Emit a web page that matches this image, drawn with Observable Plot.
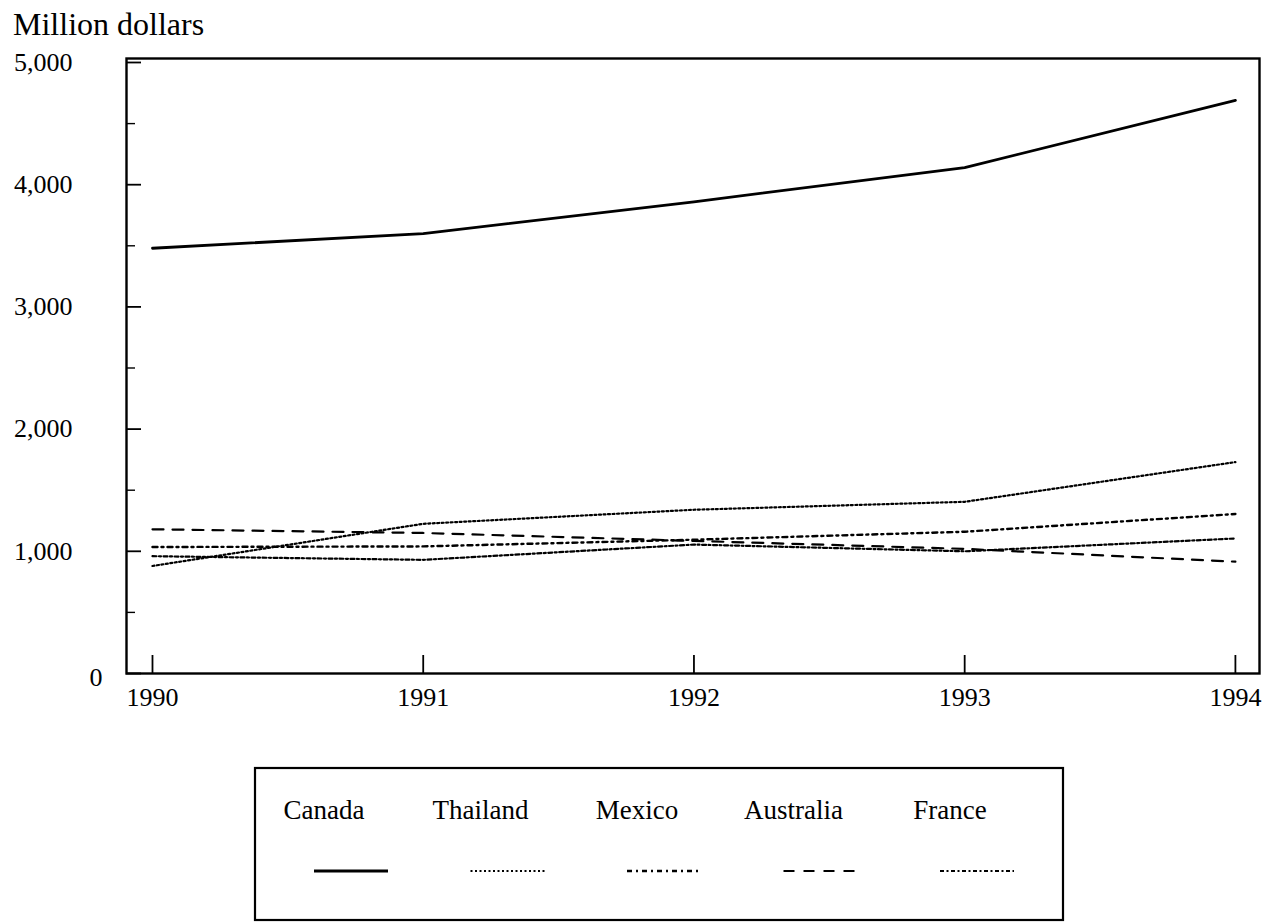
<!DOCTYPE html>
<html><head><meta charset="utf-8">
<script src="https://cdn.jsdelivr.net/npm/d3@7"></script>
<script src="https://cdn.jsdelivr.net/npm/@observablehq/plot@0.6"></script>
<style>
body{margin:0;background:#fff;font-family:"Liberation Serif",serif;color:#000}
#wrap{position:relative;width:1263px;height:922px;overflow:hidden}
#chart{position:absolute;left:0;top:0}
#title{position:absolute;left:13px;top:8px;font-size:32px;line-height:1}
#legend{position:absolute;left:254px;top:767px}
</style></head>
<body><div id="wrap"><div id="chart"></div><div id="title">Million dollars</div><div id="legend"></div></div>
<script>
const years = [1990, 1991, 1992, 1993, 1994];
const series = ["Canada", "Thailand", "Mexico", "Australia", "France"];
const canada    = [3480, 3600, 3860, 4140, 4690];
const thailand  = [880, 1225, 1340, 1405, 1730];
const mexico    = [1035, 1040, 1095, 1160, 1305];
const australia = [1180, 1150, 1085, 1020, 915];
const france    = [960, 930, 1055, 1000, 1105];
const yMajor = [0, 1000, 2000, 3000, 4000, 5000];
const yMinor = [500, 1500, 2500, 3500, 4500];
const yLabels = ["0", "1,000", "2,000", "3,000", "4,000", "5,000"];
const xLabels = ["1990", "1991", "1992", "1993", "1994"];

const values = [canada, thailand, mexico, australia, france];
const styles = {
  Canada:    {strokeWidth: 2.8, strokeDasharray: null},
  Thailand:  {strokeWidth: 2.2, strokeDasharray: "2,2.5"},
  Mexico:    {strokeWidth: 2.4, strokeDasharray: "5,4,2,4"},
  Australia: {strokeWidth: 2.2, strokeDasharray: "11,9"},
  France:    {strokeWidth: 2.2, strokeDasharray: "4,2.5,2,2.5"}
};
const data = series.flatMap((s, i) => years.map((yr, j) => ({series: s, year: yr, value: values[i][j]})));

const chart = Plot.plot({
  width: 1263, height: 740,
  marginLeft: 126, marginRight: 4, marginTop: 58, marginBottom: 67,
  style: {fontFamily: "Liberation Serif, serif", fontSize: "26px", color: "#000", background: "#fff", overflow: "visible"},
  x: {domain: [1989.904, 1994.089], label: null},
  y: {domain: [0, 5032.7], label: null},
  marks: [
    Plot.frame({stroke: "#000", strokeWidth: 2.4}),
    Plot.axisY({ticks: yMajor, tickSize: 15, dx: 15, text: null, strokeWidth: 1.8}),
    Plot.axisY({ticks: yMinor, tickSize: 9, dx: 9, text: null, strokeWidth: 1.4}),
    Plot.axisY({ticks: yMajor.slice(1), tickSize: 0, tickPadding: 54, tickFormat: d => yLabels[yMajor.indexOf(d)], fontSize: 26}),
    Plot.axisY({ticks: [yMajor[0]], tickSize: 0, tickPadding: 24, dy: 4, tickFormat: d => yLabels[yMajor.indexOf(d)], fontSize: 26}),
    Plot.axisX({ticks: years, tickSize: 18, dy: -18, text: null, strokeWidth: 1.8}),
    Plot.axisX({ticks: years, tickSize: 0, tickPadding: 14, tickFormat: d => xLabels[years.indexOf(d)], fontSize: 26}),
    ...series.map(s => Plot.line(data.filter(d => d.series === s), {
      x: "year", y: "value", stroke: "#000",
      strokeWidth: styles[s].strokeWidth, strokeDasharray: styles[s].strokeDasharray
    }))
  ]
});
document.getElementById("chart").appendChild(chart);

// legend box
const lw = 810, lh = 154;
const svg = d3.select("#legend").append("svg").attr("width", lw).attr("height", lh)
  .style("font-family", "Liberation Serif, serif").style("overflow", "visible");
svg.append("rect").attr("x", 1).attr("y", 1).attr("width", lw - 2).attr("height", lh - 2)
  .attr("fill", "none").attr("stroke", "#000").attr("stroke-width", 2.2);
series.forEach((s, i) => {
  const cx = 70 + i * 156.5;
  svg.append("text").attr("x", cx).attr("y", 52).attr("text-anchor", "middle")
    .attr("font-size", 27).text(s);
  svg.append("line").attr("x1", cx - 10).attr("x2", cx + 64).attr("y1", 104).attr("y2", 104)
    .attr("stroke", "#000").attr("stroke-width", styles[s].strokeWidth)
    .attr("stroke-dasharray", styles[s].strokeDasharray);
});
</script>
</body></html>
